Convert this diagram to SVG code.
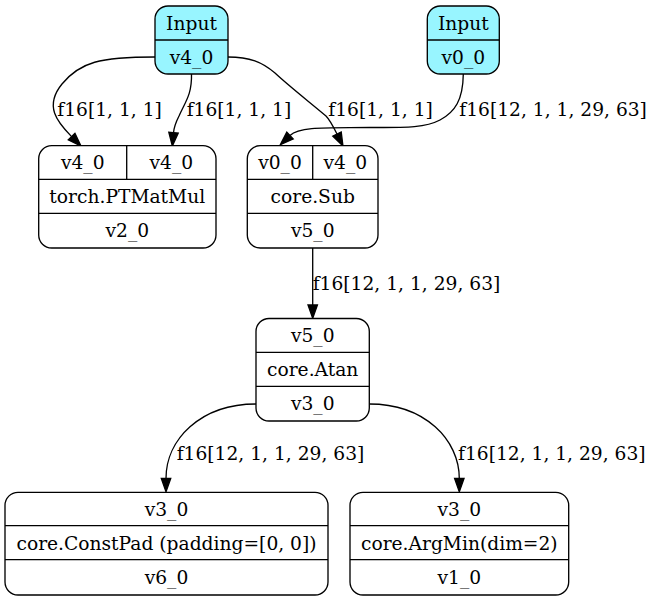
<svg xmlns="http://www.w3.org/2000/svg" width="654" height="601" viewBox="0 0 654 601">
  <style>
    .box { fill: #ffffff; stroke: #000000; stroke-width: 1.33; }
    .input { fill: #98f5ff; }
    .div { stroke: #000000; stroke-width: 1.33; fill: none; }
    .t { font-family: "DejaVu Serif", "Liberation Serif", serif; font-size: 18.67px; fill: #000000; text-anchor: middle; }
    .lbl { font-family: "DejaVu Serif", "Liberation Serif", serif; font-size: 18.67px; fill: #000000; text-anchor: start; }
    .edge { fill: none; stroke: #000000; stroke-width: 1.33; marker-end: url(#arrow); }
  </style>
  <defs>
    <marker id="arrow" markerUnits="userSpaceOnUse" markerWidth="16" markerHeight="12" refX="0" refY="0" orient="auto" overflow="visible" viewBox="-1 -6 16 12">
      <path d="M0,-4.7 L13.3,0 L0,4.7 Z" fill="#000000" stroke="#000000" stroke-width="1.33"/>
    </marker>
  </defs>

  <rect width="654" height="601" fill="#ffffff"/>

  <!-- connectors -->
  <g id="edges">
    <path class="edge" d="M155,57 C100,57 80,62 62,84 C44,106 57,122 71.6,136.6"/>
    <path class="edge" d="M191.5,74 C192,95 185,102 179,116 C176,122 174,127 173.5,132.7"/>
    <path class="edge" d="M228,57 C250,57 262,62 275,73 C290,87 312,104 326,116 C330,120 333,126 337,134"/>
    <path class="edge" d="M463.3,74 C463,100 455,112 440,120 C425,128 405,127.5 370,127.5 C330,128 300,126 290,135.5"/>
    <path class="edge" d="M312.7,248 L312.7,305"/>
    <path class="edge" d="M256,404 C200,404 166,440 166,478.5"/>
    <path class="edge" d="M369.3,404 C425,404 459.3,440 459.3,478.5"/>
    <text class="lbl" x="57.3" y="116">f16[1, 1, 1]</text>
    <text class="lbl" x="186.7" y="116">f16[1, 1, 1]</text>
    <text class="lbl" x="328.3" y="116">f16[1, 1, 1]</text>
    <text class="lbl" x="459.3" y="116">f16[12, 1, 1, 29, 63]</text>
    <text class="lbl" x="312.7" y="290">f16[12, 1, 1, 29, 63]</text>
    <text class="lbl" x="176.7" y="460">f16[12, 1, 1, 29, 63]</text>
    <text class="lbl" x="458" y="460">f16[12, 1, 1, 29, 63]</text>
  </g>

  <g id="input_v4_0">
    <rect class="box input" x="155" y="6" width="73" height="68" rx="13"/>
    <line class="div" x1="155" y1="40" x2="228" y2="40"/>
    <text class="t" x="191.5" y="29.5">Input</text>
    <text class="t" x="191.5" y="63.5">v4_0</text>
  </g>

  <g id="input_v0_0">
    <rect class="box input" x="427.3" y="6" width="72" height="68" rx="13"/>
    <line class="div" x1="427.3" y1="40" x2="499.3" y2="40"/>
    <text class="t" x="463.3" y="29.5">Input</text>
    <text class="t" x="463.3" y="63.5">v0_0</text>
  </g>

  <g id="v2_0">
    <rect class="box" x="38.7" y="145.7" width="177.3" height="102.3" rx="13"/>
    <line class="div" x1="38.7" y1="179.3" x2="216" y2="179.3"/>
    <line class="div" x1="38.7" y1="213.3" x2="216" y2="213.3"/>
    <line class="div" x1="126.7" y1="145.7" x2="126.7" y2="179.3"/>
    <text class="t" x="82.7" y="169">v4_0</text>
    <text class="t" x="171.3" y="169">v4_0</text>
    <text class="t" x="127.3" y="203">torch.PTMatMul</text>
    <text class="t" x="127.3" y="237">v2_0</text>
  </g>

  <g id="v5_0">
    <rect class="box" x="247.3" y="145.7" width="130.7" height="102.3" rx="13"/>
    <line class="div" x1="247.3" y1="179.3" x2="378" y2="179.3"/>
    <line class="div" x1="247.3" y1="213.3" x2="378" y2="213.3"/>
    <line class="div" x1="312.7" y1="145.7" x2="312.7" y2="179.3"/>
    <text class="t" x="280" y="169">v0_0</text>
    <text class="t" x="345.3" y="169">v4_0</text>
    <text class="t" x="312.7" y="203">core.Sub</text>
    <text class="t" x="312.7" y="237">v5_0</text>
  </g>

  <g id="v3_0">
    <rect class="box" x="256" y="318.5" width="113.3" height="102.5" rx="13"/>
    <line class="div" x1="256" y1="352.3" x2="369.3" y2="352.3"/>
    <line class="div" x1="256" y1="386.3" x2="369.3" y2="386.3"/>
    <text class="t" x="312.7" y="342">v5_0</text>
    <text class="t" x="312.7" y="376">core.Atan</text>
    <text class="t" x="312.7" y="410">v3_0</text>
  </g>

  <g id="v6_0">
    <rect class="box" x="5" y="492.3" width="323" height="102.7" rx="13"/>
    <line class="div" x1="5" y1="525.7" x2="328" y2="525.7"/>
    <line class="div" x1="5" y1="559.7" x2="328" y2="559.7"/>
    <text class="t" x="166.5" y="515.5">v3_0</text>
    <text class="t" x="166.5" y="549.5">core.ConstPad (padding=[0, 0])</text>
    <text class="t" x="166.5" y="584">v6_0</text>
  </g>

  <g id="v1_0">
    <rect class="box" x="350" y="492.3" width="218.7" height="102.7" rx="13"/>
    <line class="div" x1="350" y1="525.7" x2="568.7" y2="525.7"/>
    <line class="div" x1="350" y1="559.7" x2="568.7" y2="559.7"/>
    <text class="t" x="459.3" y="515.5">v3_0</text>
    <text class="t" x="459.3" y="549.5">core.ArgMin(dim=2)</text>
    <text class="t" x="459.3" y="584">v1_0</text>
  </g>
</svg>
